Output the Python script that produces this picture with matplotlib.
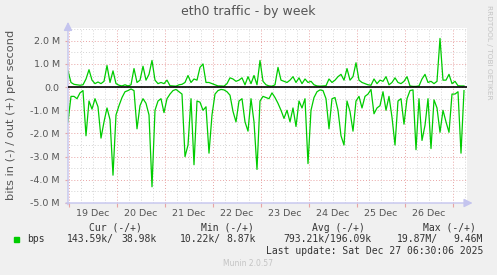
import numpy as np
import matplotlib
matplotlib.use("Agg")
import matplotlib.pyplot as plt
import matplotlib.dates as mdates
from matplotlib.ticker import MultipleLocator, FuncFormatter

# samples every 90 minutes, starting Thu 18 Dec 23:30 (values in M bit/s)
start = np.datetime64("2025-12-18T23:30")
bps_out = [0.7, 0.2, 0.12, 0.1, 0.08, 0.1, 0.35, 0.75, 0.3, 0.15,
           0.22, 0.15, 0.25, 0.93, 0.2, 0.7, 0.15, 0.08, 0.05, 0.1,
           0.05, 0.1, 0.8, 0.2, 0.3, 0.9, 0.3, 0.55, 1.15, 0.3,
           0.15, 0.2, 0.15, 0.3, 0.06, 0.05, 0.04, 0.1, 0.12, 0.2,
           0.5, 0.2, 0.35, 0.3, 0.85, 1.0, 0.2, 0.2, 0.15, 0.1,
           0.05, 0.05, 0.04, 0.15, 0.4, 0.35, 0.25, 0.3, 0.4, 0.1,
           0.45, 0.15, 0.5, 0.1, 1.15, 0.25, 0.1, 0.05, 0.04, 0.1,
           0.85, 0.3, 0.25, 0.2, 0.3, 0.45, 0.2, 0.4, 0.15, 0.35,
           0.2, 0.25, 0.1, 0.05, 0.04, 0.05, 0.06, 0.35, 0.2, 0.3,
           0.45, 0.55, 0.3, 0.8, 0.3, 0.45, 1.05, 0.3, 0.2, 0.15,
           0.1, 0.08, 0.35, 0.15, 0.3, 0.25, 0.45, 0.1, 0.2, 0.4,
           0.2, 0.15, 0.25, 0.45, 0.05, 0.03, 0.03, 0.05, 0.35, 0.55,
           0.2, 0.25, 0.15, 0.25, 2.1, 0.3, 0.3, 0.55, 0.15, 0.25,
           0.06, 0.05, 0.05]
bps_in = [-1.5, -0.4, -0.4, -0.5, -0.25, -0.15, -2.1, -0.6, -0.95, -0.5,
          -0.85, -2.2, -1.5, -0.9, -1.4, -3.8, -1.2, -0.8, -0.45, -0.2,
          -0.15, -0.08, -0.15, -1.8, -0.8, -0.5, -0.7, -1.2, -4.3, -1.0,
          -0.6, -0.5, -1.1, -0.5, -0.3, -0.15, -0.1, -0.2, -0.3, -3.0,
          -2.5, -0.5, -3.35, -0.6, -0.65, -1.0, -0.85, -2.85, -1.2, -0.3,
          -0.15, -0.1, -0.12, -0.2, -0.35, -1.05, -1.5, -0.6, -0.5, -1.5,
          -1.9, -0.5, -1.5, -3.55, -0.6, -0.4, -0.45, -0.5, -0.25, -0.45,
          -0.7, -1.0, -1.35, -1.0, -1.5, -0.9, -1.7, -0.6, -0.9, -0.5,
          -3.3, -1.0, -0.45, -0.2, -0.12, -0.15, -0.5, -1.8, -0.5, -0.45,
          -1.0, -2.1, -2.5, -0.6, -1.05, -1.9, -0.6, -0.4, -0.9, -0.4,
          -0.3, -0.1, -1.15, -0.9, -0.8, -0.2, -1.0, -0.4, -1.3, -2.5,
          -0.6, -0.5, -1.6, -0.5, -0.15, -0.12, -2.7, -0.5, -2.3, -1.65,
          -0.5, -2.65, -0.55, -0.9, -1.95, -1.0, -1.5, -1.95, -0.3, -0.3,
          -0.2, -2.85, -0.15]

times = start + np.arange(len(bps_out)) * np.timedelta64(90, "m")
t = times.astype("datetime64[m]").astype(object)
out_vals = np.array(bps_out) * 1e6
in_vals = np.array(bps_in) * 1e6

W, H = 497, 275
fig = plt.figure(figsize=(W / 100, H / 100), dpi=100, facecolor="#F0F0F0")
ax = fig.add_axes([68 / W, 1 - 203 / H, (467 - 68) / W, (203 - 28) / H])
ax.set_facecolor("white")

ax.plot(t, in_vals, color="#00CC00", lw=0.9, zorder=3)
ax.plot(t, out_vals, color="#00CC00", lw=0.9, zorder=3)
ax.axhline(0, color="black", lw=1.2, zorder=4)

ax.set_xlim(np.datetime64("2025-12-18T23:30").astype(object),
            np.datetime64("2025-12-27T07:00").astype(object))
ax.set_ylim(-5e6, 2.55e6)

# grid: gray every 6h / 0.5M, red at midnight / 1M
ax.xaxis.set_major_locator(mdates.HourLocator(byhour=[0]))
ax.xaxis.set_minor_locator(mdates.HourLocator(byhour=[0, 6, 12, 18]))
ax.xaxis.set_major_formatter(FuncFormatter(lambda v, p: ""))
ax.xaxis.set_minor_formatter(FuncFormatter(
    lambda v, p: mdates.num2date(v).strftime("%d %b").lstrip("0")
    if mdates.num2date(v).hour == 12 else ""))
ax.yaxis.set_major_locator(MultipleLocator(1e6))
ax.yaxis.set_minor_locator(MultipleLocator(0.5e6))
ax.yaxis.set_major_formatter(FuncFormatter(
    lambda v, p: "0.0" if abs(v) < 1 else f"{v / 1e6:.1f} M"))

ax.set_axisbelow(True)
ax.grid(which="minor", color="#D4D4D4", lw=0.7, linestyle=(0, (1, 2)))
ax.grid(which="major", color="#E8A4A4", lw=0.7, linestyle=(0, (1, 2)))

ax.tick_params(which="major", axis="x", length=3, color="#E8A4A4", pad=4)
ax.tick_params(which="minor", axis="x", length=0, labelsize=6.8,
               labelcolor="#555555", pad=4)
ax.tick_params(which="major", axis="y", length=2, color="#E8A4A4",
               labelsize=6.8, labelcolor="#555555", pad=4)
ax.tick_params(which="minor", axis="y", length=0)

for s in ax.spines.values():
    s.set_visible(False)
arrow = dict(arrowstyle="-|>,head_length=0.5,head_width=0.25",
             color="#C4C4EE", lw=1, shrinkA=0, shrinkB=0)
ax.annotate("", xy=(0, 1.035), xytext=(0, -0.01), xycoords="axes fraction",
            arrowprops=arrow)
ax.annotate("", xy=(1.014, 0), xytext=(-0.005, 0), xycoords="axes fraction",
            arrowprops=arrow)

fig.text(0.5, 1 - 12 / H, "eth0 traffic - by week", ha="center", va="center",
         fontsize=9, color="#555555")
fig.text(11 / W, 1 - 115 / H, "bits in (-) / out (+) per second",
         rotation=90, ha="center", va="center", fontsize=8.2, color="#555555")
fig.text(489 / W, 1 - 5 / H, "RRDTOOL / TOBI OETIKER", rotation=270,
         ha="center", va="top", fontsize=5.3, color="#C4C4C4")

mono = dict(family="DejaVu Sans Mono", fontsize=7, color="#333333",
            va="center")
y1, y2, y3 = 1 - 228 / H, 1 - 239 / H, 1 - 251 / H
for x0, s in [(89, "Cur (-/+)"), (201, "Min (-/+)"), (312, "Avg (-/+)"),
              (423, "Max (-/+)")]:
    fig.text(x0 / W, y1, s, ha="left", **mono)
fig.patches.append(plt.Rectangle((14 / W, 1 - 242 / H), 5 / W, 5 / H,
                                 transform=fig.transFigure,
                                 color="#00CC00"))
fig.text(27 / W, y2, "bps", ha="left", **mono)
fig.text(67 / W, y2, "143.59k/", ha="left", **mono)
fig.text(157 / W, y2, "38.98k", ha="right", **mono)
fig.text(180 / W, y2, "10.22k/", ha="left", **mono)
fig.text(256 / W, y2, "8.87k", ha="right", **mono)
fig.text(283 / W, y2, "793.21k/196.09k", ha="left", **mono)
fig.text(397 / W, y2, "19.87M/", ha="left", **mono)
fig.text(483 / W, y2, "9.46M", ha="right", **mono)
fig.text(483 / W, y3, "Last update: Sat Dec 27 06:30:06 2025", ha="right",
         **mono)
fig.text(248 / W, 1 - 264 / H, "Munin 2.0.57", ha="center", va="center",
         fontsize=5.5, color="#C4C4C4")

fig.savefig("out.png", dpi=100, facecolor=fig.get_facecolor())
